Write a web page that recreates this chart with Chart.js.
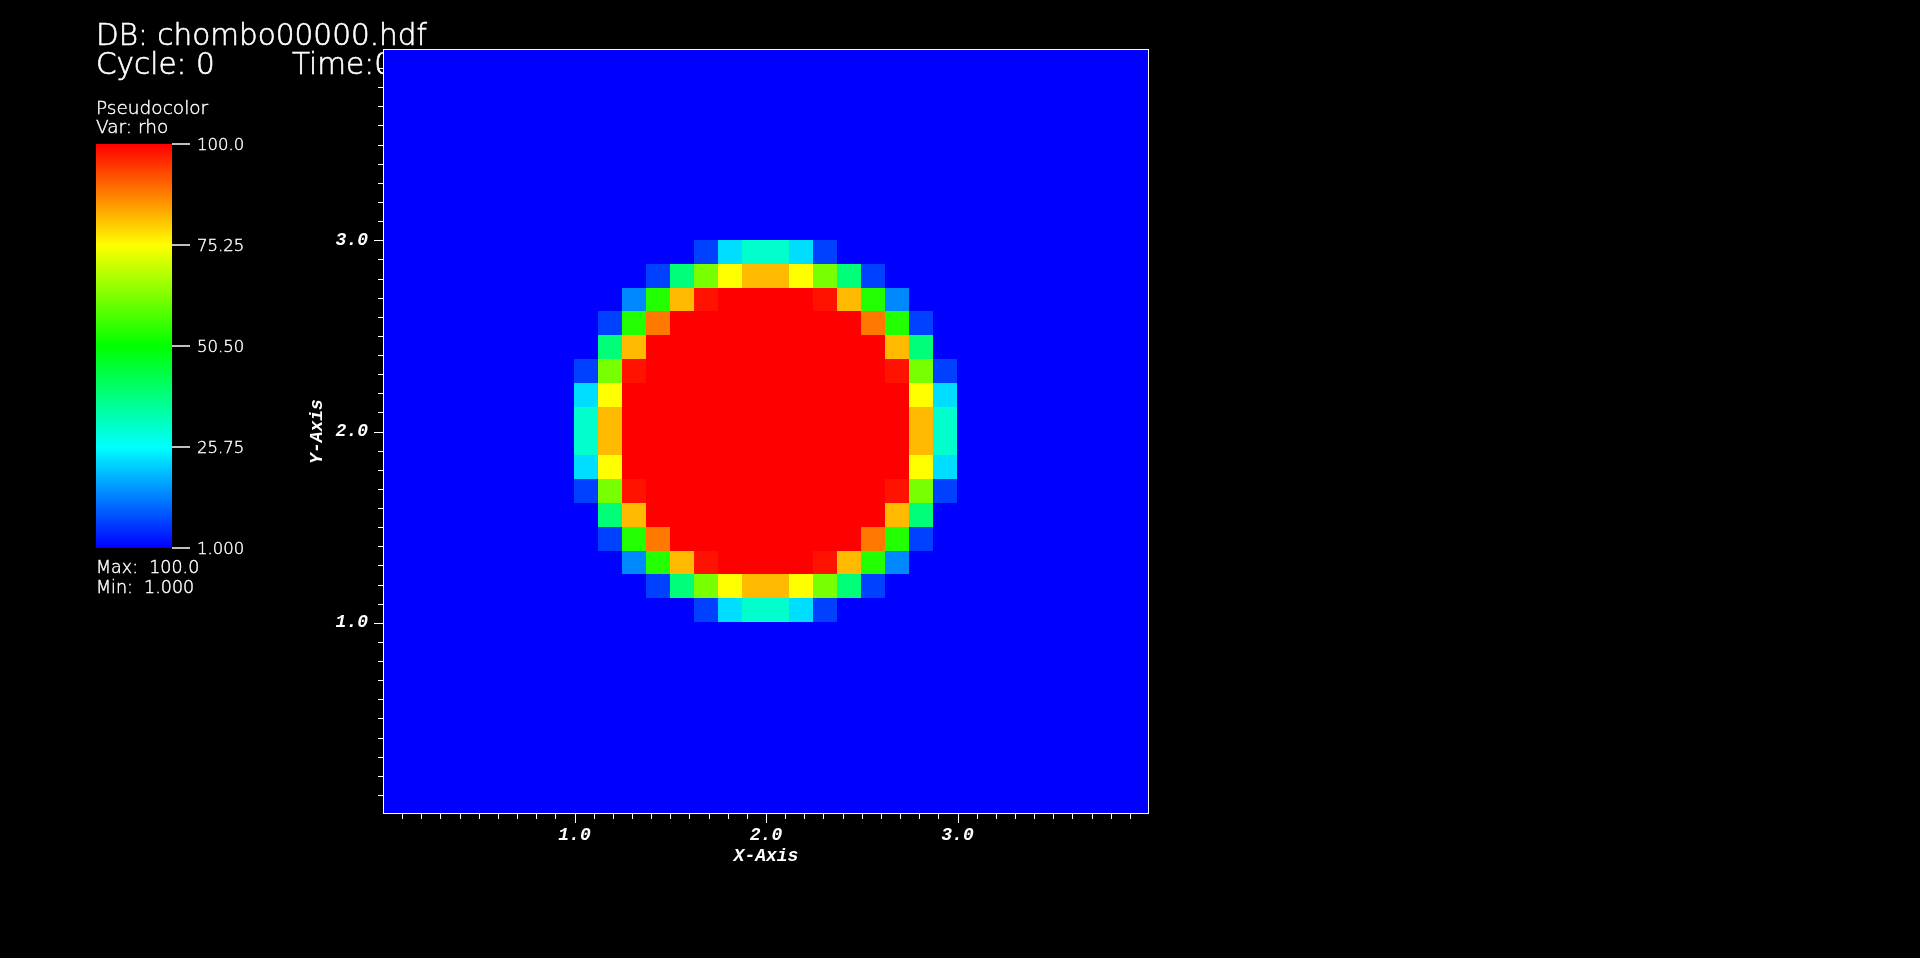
<!DOCTYPE html>
<html>
<head>
<meta charset="utf-8">
<title>chombo00000.hdf - rho</title>
<script src="https://cdn.jsdelivr.net/npm/chart.js@4.4.1/dist/chart.umd.min.js"></script>
<style>
  html, body { margin: 0; padding: 0; background: #000; overflow: hidden; }
</style>
</head>
<body>
<canvas id="myChart" width="1920" height="958"></canvas>
<script>
// domain of the mesh, 32 x 32 cells
var xMin = 0.0, xMax = 4.0, yMin = 0.0, yMax = 4.0;
var nCells = 32;
var bgRho = 1.0;          // every cell outside the block below
var blobStart = 8;        // first column / first row (counted from the top) of the block
var rhoRows = [
  [1, 1, 1, 1, 1, 7.2, 22.5, 30.7, 30.7, 22.5, 7.2, 1, 1, 1, 1, 1],
  [1, 1, 1, 7.2, 38.9, 62.1, 75.25, 81.9, 81.9, 75.25, 62.1, 38.9, 7.2, 1, 1, 1],
  [1, 1, 14.2, 53.8, 81.9, 98.3, 100, 100, 100, 100, 98.3, 81.9, 53.8, 14.2, 1, 1],
  [1, 7.2, 53.8, 88.4, 100, 100, 100, 100, 100, 100, 100, 100, 88.4, 53.8, 7.2, 1],
  [1, 38.9, 81.9, 100, 100, 100, 100, 100, 100, 100, 100, 100, 100, 81.9, 38.9, 1],
  [7.2, 62.1, 98.3, 100, 100, 100, 100, 100, 100, 100, 100, 100, 100, 98.3, 62.1, 7.2],
  [22.5, 75.25, 100, 100, 100, 100, 100, 100, 100, 100, 100, 100, 100, 100, 75.25, 22.5],
  [30.7, 81.9, 100, 100, 100, 100, 100, 100, 100, 100, 100, 100, 100, 100, 81.9, 30.7],
  [30.7, 81.9, 100, 100, 100, 100, 100, 100, 100, 100, 100, 100, 100, 100, 81.9, 30.7],
  [22.5, 75.25, 100, 100, 100, 100, 100, 100, 100, 100, 100, 100, 100, 100, 75.25, 22.5],
  [7.2, 62.1, 98.3, 100, 100, 100, 100, 100, 100, 100, 100, 100, 100, 98.3, 62.1, 7.2],
  [1, 38.9, 81.9, 100, 100, 100, 100, 100, 100, 100, 100, 100, 100, 81.9, 38.9, 1],
  [1, 7.2, 53.8, 88.4, 100, 100, 100, 100, 100, 100, 100, 100, 88.4, 53.8, 7.2, 1],
  [1, 1, 14.2, 53.8, 81.9, 98.3, 100, 100, 100, 100, 98.3, 81.9, 53.8, 14.2, 1, 1],
  [1, 1, 1, 7.2, 38.9, 62.1, 75.25, 81.9, 81.9, 75.25, 62.1, 38.9, 7.2, 1, 1, 1],
  [1, 1, 1, 1, 1, 7.2, 22.5, 30.7, 30.7, 22.5, 7.2, 1, 1, 1, 1, 1]
];

var minorStep = 0.1;
var xMajor = [1, 2, 3];
var xTickLabels = ['1.0', '2.0', '3.0'];
var yMajor = [1, 2, 3];
var yTickLabels = ['1.0', '2.0', '3.0'];

var rhoMin = 1.0, rhoMax = 100.0;
var barTickValues = [100.0, 75.25, 50.50, 25.75, 1.000];
var barTickLabels = ['100.0', '75.25', '50.50', '25.75', '1.000'];
var cmapStops = [0.0, 0.25, 0.5, 0.75, 1.0];
var cmapColors = [[0, 0, 255], [0, 255, 255], [0, 255, 0], [255, 255, 0], [255, 0, 0]];

var dbLine = 'DB: chombo00000.hdf';
var cycleLine = 'Cycle: 0';
var timeLine = 'Time:0';
var legendLines = ['Pseudocolor', 'Var: rho'];
var maxLine = 'Max:  100.0';
var minLine = 'Min:  1.000';

var axisFont = {family: "'Liberation Mono', 'DejaVu Sans Mono', monospace", size: 18, weight: 'bold', style: 'italic'};
var textFont = "'DejaVu Sans', sans-serif";

function rhoAt(r, c) {
  var rr = r - blobStart, cc = c - blobStart;
  if (rr >= 0 && rr < rhoRows.length && cc >= 0 && cc < rhoRows[rr].length) return rhoRows[rr][cc];
  return bgRho;
}

function rhoColor(v) {
  var t = (v - rhoMin) / (rhoMax - rhoMin);
  t = Math.max(0, Math.min(1, t));
  for (var i = 1; i < cmapStops.length; i++) {
    if (t <= cmapStops[i]) {
      var f = (t - cmapStops[i - 1]) / (cmapStops[i] - cmapStops[i - 1]);
      var a = cmapColors[i - 1], b = cmapColors[i];
      return 'rgb(' + Math.round(a[0] + (b[0] - a[0]) * f) + ',' +
        Math.round(a[1] + (b[1] - a[1]) * f) + ',' +
        Math.round(a[2] + (b[2] - a[2]) * f) + ')';
    }
  }
  return 'rgb(255,0,0)';
}

function tickLabel(v, majors, labels) {
  for (var i = 0; i < majors.length; i++) {
    if (Math.abs(v - majors[i]) < 1e-6) return labels[i];
  }
  return '';
}

// thin text with a hairline stroke, closer to the VisIt annotation look
function label(c, txt, x, y) {
  c.fillText(txt, x, y);
  c.strokeText(txt, x, y);
}

var pseudocolorPlugin = {
  id: 'pseudocolor',
  beforeDraw: function(chart) {
    var c = chart.ctx;
    c.save();
    c.fillStyle = '#fff';
    c.strokeStyle = '#fff';
    c.lineWidth = 0.6;
    c.textBaseline = 'alphabetic';
    c.textAlign = 'left';
    // header
    c.font = '200 29.5px ' + textFont;
    label(c, dbLine, 96, 45);
    label(c, cycleLine, 96, 74);
    label(c, timeLine, 292, 74);
    // legend
    c.lineWidth = 0.4;
    c.font = '200 18.5px ' + textFont;
    label(c, legendLines[0], 96, 114);
    label(c, legendLines[1], 96, 133);
    c.font = '200 17.5px ' + textFont;
    label(c, maxLine, 96, 573);
    label(c, minLine, 96, 593);
    // color bar
    var bx0 = 96, bx1 = 172, byTop = 144, byBot = 548;
    var grad = c.createLinearGradient(0, byBot, 0, byTop);
    for (var i = 0; i < cmapStops.length; i++) {
      var col = cmapColors[i];
      grad.addColorStop(cmapStops[i], 'rgb(' + col[0] + ',' + col[1] + ',' + col[2] + ')');
    }
    c.fillStyle = grad;
    c.fillRect(bx0, byTop, bx1 - bx0, byBot - byTop);
    c.fillStyle = '#fff';
    c.font = '200 16.5px ' + textFont;
    for (var k = 0; k < barTickValues.length; k++) {
      var ty = byBot - (barTickValues[k] - rhoMin) / (rhoMax - rhoMin) * (byBot - byTop);
      c.lineWidth = 1.5;
      c.beginPath();
      c.moveTo(bx1, ty);
      c.lineTo(bx1 + 18, ty);
      c.stroke();
      c.lineWidth = 0.4;
      label(c, barTickLabels[k], bx1 + 25, ty + 6);
    }
    c.restore();
  },
  beforeDatasetsDraw: function(chart) {
    var c = chart.ctx, xs = chart.scales.x, ys = chart.scales.y;
    var dx = (xMax - xMin) / nCells, dy = (yMax - yMin) / nCells;
    c.save();
    for (var r = 0; r < nCells; r++) {
      for (var col = 0; col < nCells; col++) {
        var x0 = xs.getPixelForValue(xMin + col * dx), x1 = xs.getPixelForValue(xMin + (col + 1) * dx);
        var y0 = ys.getPixelForValue(yMax - r * dy), y1 = ys.getPixelForValue(yMax - (r + 1) * dy);
        c.fillStyle = rhoColor(rhoAt(r, col));
        c.fillRect(Math.floor(x0), Math.floor(y0), Math.ceil(x1) - Math.floor(x0), Math.ceil(y1) - Math.floor(y0));
      }
    }
    c.restore();
  },
  afterDraw: function(chart) {
    var c = chart.ctx, a = chart.chartArea, xs = chart.scales.x, ys = chart.scales.y;
    c.save();
    c.strokeStyle = '#fff';
    c.lineWidth = 1;
    c.strokeRect(Math.round(a.left) + 0.5, Math.round(a.top) + 0.5, Math.round(a.right - a.left) - 1, Math.round(a.bottom - a.top) - 1);
    c.beginPath();
    xs.ticks.forEach(function(t) {
      if (t.value <= xMin + 1e-6 || t.value >= xMax - 1e-6) return;
      var px = Math.round(xs.getPixelForValue(t.value)) + 0.5;
      var len = Math.abs(t.value - Math.round(t.value)) < 1e-6 ? 9 : 5;
      c.moveTo(px, a.bottom);
      c.lineTo(px, a.bottom + len);
    });
    ys.ticks.forEach(function(t) {
      if (t.value <= yMin + 1e-6 || t.value >= yMax - 1e-6) return;
      var py = Math.round(ys.getPixelForValue(t.value)) + 0.5;
      var len = Math.abs(t.value - Math.round(t.value)) < 1e-6 ? 9 : 5;
      c.moveTo(a.left, py);
      c.lineTo(a.left - len, py);
    });
    c.stroke();
    c.restore();
  }
};

var ctx = document.getElementById('myChart').getContext('2d');
var chart = new Chart(ctx, {
  type: 'scatter',
  data: { datasets: [{ label: 'rho', data: [], pointRadius: 0 }] },
  options: {
    responsive: false,
    animation: false,
    layout: { padding: { left: 300, top: 49, right: 771, bottom: 80 } },
    plugins: { legend: { display: false }, tooltip: { enabled: false } },
    scales: {
      x: {
        type: 'linear', min: xMin, max: xMax,
        afterFit: function(s) { s.height = 64; },
        border: { display: false },
        grid: { display: true, drawOnChartArea: false, drawTicks: true, tickLength: 9, tickColor: 'rgba(0,0,0,0)' },
        ticks: {
          stepSize: minorStep, maxTicksLimit: 100, autoSkip: false, maxRotation: 0,
          color: '#fff', font: axisFont, padding: 2,
          callback: function(v) { return tickLabel(v, xMajor, xTickLabels); }
        },
        title: { display: true, text: 'X-Axis', color: '#fff', font: axisFont, padding: { top: 0, bottom: 11 } }
      },
      y: {
        type: 'linear', min: yMin, max: yMax,
        afterFit: function(s) { s.width = 83; },
        border: { display: false },
        grid: { display: true, drawOnChartArea: false, drawTicks: true, tickLength: 9, tickColor: 'rgba(0,0,0,0)' },
        ticks: {
          stepSize: minorStep, maxTicksLimit: 100, autoSkip: false,
          color: '#fff', font: axisFont, padding: 6,
          callback: function(v) { return tickLabel(v, yMajor, yTickLabels); }
        },
        title: { display: true, text: 'Y-Axis', color: '#fff', font: axisFont, padding: { top: 7, bottom: 0 } }
      }
    }
  },
  plugins: [pseudocolorPlugin]
});
</script>
</body>
</html>
